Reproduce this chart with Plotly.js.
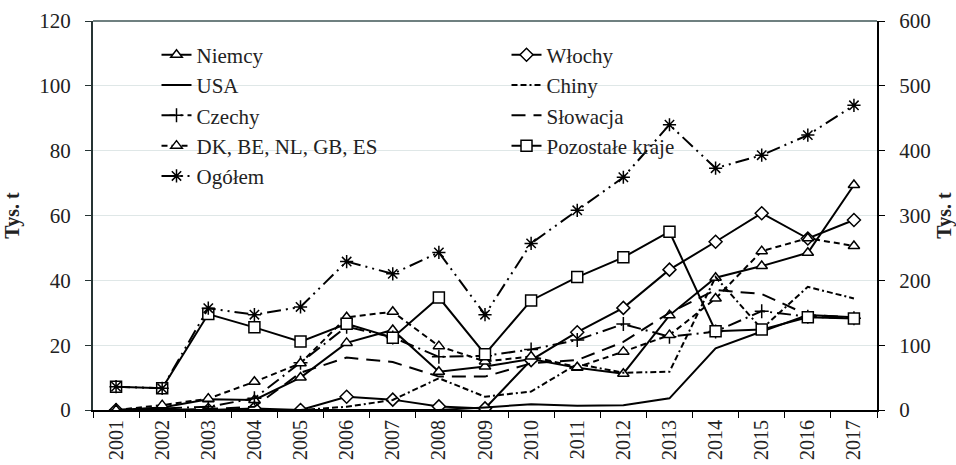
<!DOCTYPE html>
<html>
<head>
<meta charset="utf-8">
<script src="https://cdn.plot.ly/plotly-3.0.1.min.js"></script>
<style>html,body{margin:0;padding:0;background:#fff;}#chart{width:956px;height:465px;}</style>
</head>
<body>
<div id="chart"></div>
<script>
const years = ["2001","2002","2003","2004","2005","2006","2007","2008","2009","2010","2011","2012","2013","2014","2015","2016","2017"];
const niemcy   = [0, 0.8, 3.3, 3.1, 10.0, 20.7, 24.7, 11.8, 13.4, 15.7, 13.0, 11.2, 29.2, 40.8, 44.4, 48.5, 69.4];
const wlochy   = [0, 0, 0, 0.5, 0, 4.1, 3.2, 1.1, 0.5, 15.4, 24.0, 31.5, 43.3, 51.9, 60.7, 52.9, 58.6];
const usa      = [0, 0, 0, 0, 0, 0, 0, 0, 0.8, 1.8, 1.3, 1.5, 3.6, 19.0, 24.2, 29.3, 28.6];
const chiny    = [0, 0, 0, 0.2, 0, 1.0, 3.1, 9.8, 4.1, 5.7, 14.2, 11.5, 11.8, 41.0, 25.0, 38.0, 34.4];
const czechy   = [0, 0.5, 1.0, 3.6, 14.6, 25.7, 22.4, 16.4, 16.7, 18.7, 21.6, 26.5, 22.6, 24.2, 30.5, 28.8, 28.3];
const slowacja = [0, 0, 0.3, 1.0, 11.5, 16.2, 14.8, 10.3, 10.3, 14.4, 15.4, 21.0, 30.0, 37.0, 35.8, 29.3, 28.6];
const dk       = [0, 1.5, 3.5, 8.7, 14.4, 28.6, 30.3, 19.7, 15.0, 16.5, 13.2, 18.0, 23.1, 34.4, 49.0, 53.0, 50.6];
const pozostale= [7.2, 6.7, 29.6, 25.5, 21.1, 26.6, 22.3, 34.7, 17.2, 33.8, 41.0, 47.1, 55.0, 24.3, 24.8, 28.6, 28.2];
const ogolem   = [36, 33.5, 157, 147, 159, 229, 210, 243, 147, 257, 308, 359, 440, 373, 393, 424, 470];

const FONT = "'Liberation Serif', 'Times New Roman', Times, 'DejaVu Serif', serif";
const BLK = "#000";

function tr(name, y, dash, symbol, size, filled, yaxis) {
  const t = {
    x: years, y: y, name: name, type: "scatter",
    mode: symbol ? "lines+markers" : "lines",
    line: {color: BLK, width: 2, dash: dash},
    yaxis: yaxis || "y"
  };
  if (symbol) {
    t.marker = filled
      ? {symbol: symbol, size: size, color: "#fff", line: {color: BLK, width: 1.5}}
      : {symbol: symbol, size: size, color: BLK, line: {color: BLK, width: 1.5}};
  }
  return t;
}

const data = [
  tr("Niemcy", niemcy, "solid", "triangle-up", 10, true),
  tr("Włochy", wlochy, "solid", "diamond", 10, true),
  tr("USA", usa, "solid", null),
  tr("Chiny", chiny, "6px,3px,6px,3px,2px,3px", null),
  tr("Czechy", czechy, "14px,5px,2px,5px", "cross-thin-open", 10, false),
  tr("Słowacja", slowacja, "14px,8px", null),
  tr("DK, BE, NL, GB, ES", dk, "6px,4px", "triangle-up", 10, true),
  tr("Pozostałe kraje", pozostale, "solid", "square", 11, true),
  tr("Ogółem", ogolem, "14px,5px,2px,5px,2px,5px", "asterisk-open", 11, false, "y2")
];

const layout = {
  width: 956, height: 465,
  margin: {l: 93, r: 79, t: 21, b: 55},
  paper_bgcolor: "#fff", plot_bgcolor: "#fff",
  font: {family: FONT, size: 20, color: "#222"},
  showlegend: true,
  legend: {
    orientation: "h", x: 0.081, y: 0.965, xanchor: "left", yanchor: "top",
    entrywidth: 305, entrywidthmode: "pixels",
    font: {family: FONT, size: 21, color: "#222"},
    bgcolor: "rgba(0,0,0,0)", traceorder: "normal"
  },
  xaxis: {
    type: "category", range: [-0.5, 16.5],
    showline: true, linecolor: BLK, linewidth: 2,
    ticks: "outside", tickson: "boundaries", ticklen: 6, tickcolor: BLK,
    tickangle: -90, tickfont: {family: FONT, size: 20, color: "#222"},
    showgrid: false, zeroline: false, fixedrange: true
  },
  yaxis: {
    range: [0, 120], dtick: 20, tick0: 0,
    showline: true, linecolor: "#263434", linewidth: 2,
    ticks: "outside", ticklen: 6, tickcolor: "#263434",
    ticklabelstandoff: 10,
    tickfont: {family: FONT, size: 21, color: "#222"},
    showgrid: true, gridcolor: "#dfe7e7", gridwidth: 1, zeroline: false,
    title: {text: "<b>Tys. t</b>", font: {family: FONT, size: 20, color: "#222"}, standoff: 14}
  },
  yaxis2: {
    range: [0, 600], dtick: 100, tick0: 0,
    overlaying: "y", side: "right",
    showline: true, linecolor: BLK, linewidth: 2,
    ticks: "outside", ticklen: 6, tickcolor: BLK,
    ticklabelstandoff: 10,
    tickfont: {family: FONT, size: 21, color: "#222"},
    showgrid: false, zeroline: false,
    title: {text: "<b>Tys. t</b>", font: {family: FONT, size: 20, color: "#222"}, standoff: 14}
  },
  shapes: [
    {type: "line", xref: "paper", yref: "paper", x0: 0, x1: 1, y0: 1, y1: 1, line: {color: "#6f8080", width: 2}}
  ]
};

Plotly.newPlot("chart", data, layout, {displayModeBar: false, staticPlot: true});
</script>
</body>
</html>
